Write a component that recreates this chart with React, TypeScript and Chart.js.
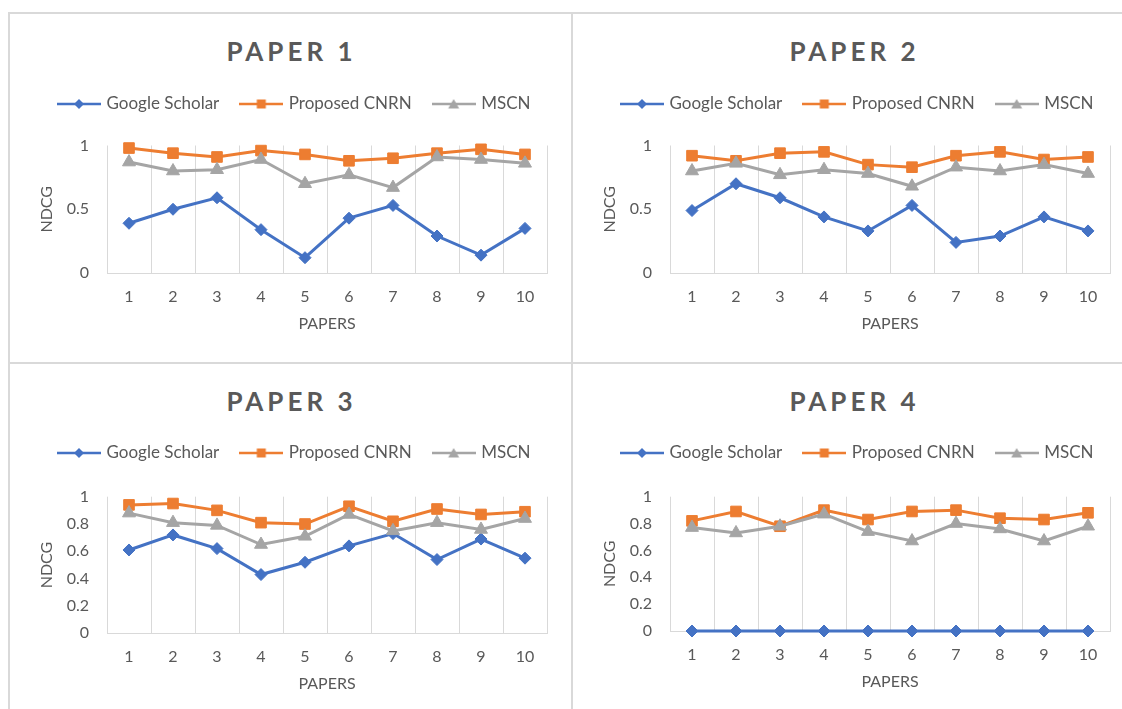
import React, { useEffect, useRef } from 'react';
import { Chart, registerables } from 'chart.js';

Chart.register(...registerables);

// ---------- data ----------
const categories = ['1', '2', '3', '4', '5', '6', '7', '8', '9', '10'];
const seriesNames = ['Google Scholar', 'Proposed CNRN', 'MSCN'];
const xAxisTitle = 'PAPERS';
const yAxisTitle = 'NDCG';

const paper1Google = [0.39, 0.5, 0.59, 0.34, 0.12, 0.43, 0.53, 0.29, 0.14, 0.35];
const paper1Cnrn = [0.98, 0.94, 0.91, 0.96, 0.93, 0.88, 0.9, 0.94, 0.97, 0.93];
const paper1Mscn = [0.87, 0.8, 0.81, 0.89, 0.7, 0.77, 0.67, 0.91, 0.89, 0.86];

const paper2Google = [0.49, 0.7, 0.59, 0.44, 0.33, 0.53, 0.24, 0.29, 0.44, 0.33];
const paper2Cnrn = [0.92, 0.88, 0.94, 0.95, 0.85, 0.83, 0.92, 0.95, 0.89, 0.91];
const paper2Mscn = [0.8, 0.86, 0.77, 0.81, 0.78, 0.68, 0.83, 0.8, 0.85, 0.78];

const paper3Google = [0.61, 0.72, 0.62, 0.43, 0.52, 0.64, 0.73, 0.54, 0.69, 0.55];
const paper3Cnrn = [0.94, 0.95, 0.9, 0.81, 0.8, 0.93, 0.82, 0.91, 0.87, 0.89];
const paper3Mscn = [0.88, 0.81, 0.79, 0.65, 0.71, 0.87, 0.75, 0.81, 0.76, 0.84];

const paper4Google = [0, 0, 0, 0, 0, 0, 0, 0, 0, 0];
const paper4Cnrn = [0.82, 0.89, 0.78, 0.9, 0.83, 0.89, 0.9, 0.84, 0.83, 0.88];
const paper4Mscn = [0.77, 0.73, 0.78, 0.87, 0.74, 0.67, 0.8, 0.76, 0.67, 0.78];

const yTicksHalf = [0, 0.5, 1];
const yTickLabelsHalf = ['0', '0.5', '1'];
const yTicksFifth = [0, 0.2, 0.4, 0.6, 0.8, 1];
const yTickLabelsFifth = ['0', '0.2', '0.4', '0.6', '0.8', '1'];

// ---------- styles ----------
const seriesColors = ['#4472C4', '#ED7D31', '#A5A5A5'];
const seriesMarkers = ['rectRot', 'rect', 'triangle'];
const markerRadii = [6, 7.5, 7.5];
const textColor = '#595959';
const gridColor = '#d9d9d9';
const fontFamily = 'Lato, "Open Sans", sans-serif';

type PanelCfg = {
  title: string;
  series: number[][];
  yTicks: number[];
  yLabels: string[];
  panelLeft: number;
  left: number;
  top: number;
  width: number;
  height: number;
  titleCenter: number;
  legendCenter: number;
  plotTop: number;
  plotBottom: number;
};

const panels: PanelCfg[] = [
  { title: 'PAPER 1', series: [paper1Google, paper1Cnrn, paper1Mscn], yTicks: yTicksHalf, yLabels: yTickLabelsHalf, panelLeft: 8, left: 10, top: 14, width: 560, height: 348, titleCenter: 52, legendCenter: 90, plotTop: 131.5, plotBottom: 259 },
  { title: 'PAPER 2', series: [paper2Google, paper2Cnrn, paper2Mscn], yTicks: yTicksHalf, yLabels: yTickLabelsHalf, panelLeft: 571, left: 573, top: 14, width: 560, height: 348, titleCenter: 52, legendCenter: 90, plotTop: 131.5, plotBottom: 259 },
  { title: 'PAPER 3', series: [paper3Google, paper3Cnrn, paper3Mscn], yTicks: yTicksFifth, yLabels: yTickLabelsFifth, panelLeft: 8, left: 10, top: 364, width: 560, height: 360, titleCenter: 401.7, legendCenter: 89, plotTop: 132.7, plotBottom: 269.3 },
  { title: 'PAPER 4', series: [paper4Google, paper4Cnrn, paper4Mscn], yTicks: yTicksFifth, yLabels: yTickLabelsFifth, panelLeft: 571, left: 573, top: 364, width: 560, height: 360, titleCenter: 401.7, legendCenter: 89, plotTop: 132.7, plotBottom: 267 },
];

function makeIcon(color: string, style: string): HTMLCanvasElement {
  const c = document.createElement('canvas');
  c.width = 44;
  c.height = 14;
  const ctx = c.getContext('2d')!;
  ctx.strokeStyle = color;
  ctx.lineWidth = 2.5;
  ctx.beginPath();
  ctx.moveTo(0, 7);
  ctx.lineTo(44, 7);
  ctx.stroke();
  ctx.fillStyle = color;
  ctx.beginPath();
  if (style === 'rectRot') {
    ctx.moveTo(22, 2);
    ctx.lineTo(27, 7);
    ctx.lineTo(22, 12);
    ctx.lineTo(17, 7);
  } else if (style === 'rect') {
    ctx.rect(17.5, 2.5, 9, 9);
  } else {
    ctx.moveTo(22, 2);
    ctx.lineTo(27.5, 11.5);
    ctx.lineTo(16.5, 11.5);
  }
  ctx.closePath();
  ctx.fill();
  return c;
}

const LEGEND_FONT = 17;
const LEGEND_PAD = 23;
const PAD_L = 27;
const PAD_R = 23;
const X_SCALE_H = 60;
const LEGEND_SLACK = 80;

function Panel({ cfg }: { cfg: PanelCfg }) {
  const ref = useRef<HTMLCanvasElement>(null);
  useEffect(() => {
    if (!ref.current) return;
    const icons = seriesColors.map((c, i) => makeIcon(c, seriesMarkers[i]));
    const padT = cfg.legendCenter - LEGEND_PAD - LEGEND_FONT / 2;
    const legendH = LEGEND_FONT + LEGEND_PAD + 10;
    const extra = cfg.plotTop - (padT + legendH);
    const padB = cfg.height - cfg.plotBottom - X_SCALE_H;
    const yWidth = 97 - PAD_L;
    const tickFont = { family: fontFamily, size: 16 };

    const spacer = {
      id: 'legendSpacer',
      beforeLayout(chart: any) {
        const lg = chart.legend;
        if (lg && !lg.__patched) {
          const origFit = lg.fit;
          lg.fit = function () {
            const mw = this.maxWidth;
            this.maxWidth = mw + LEGEND_SLACK;
            origFit.call(this);
            this.maxWidth = mw;
            this.height += extra;
          };
          const origDraw = lg.draw;
          lg.draw = function (...args: any[]) {
            const r = this.right;
            this.right = r + LEGEND_SLACK;
            origDraw.apply(this, args);
            this.right = r;
          };
          lg.__patched = true;
        }
      },
    };

    const chart = new Chart(ref.current, {
      type: 'line',
      data: {
        labels: categories,
        datasets: seriesNames.map((name, i) => ({
          label: name,
          data: cfg.series[i],
          borderColor: seriesColors[i],
          backgroundColor: seriesColors[i],
          borderWidth: 3,
          pointStyle: seriesMarkers[i] as any,
          pointRadius: markerRadii[i],
          pointBorderWidth: 1,
          pointBackgroundColor: seriesColors[i],
          pointBorderColor: seriesColors[i],
          tension: 0,
          clip: false as any,
          order: 3 - i,
        })),
      },
      options: {
        responsive: false,
        animation: false,
        events: [],
        layout: { padding: { left: PAD_L, right: PAD_R, top: padT, bottom: padB } },
        plugins: {
          title: { display: false },
          tooltip: { enabled: false },
          legend: {
            display: true,
            position: 'top',
            align: 'start',
            labels: {
              usePointStyle: true,
              pointStyleWidth: 38,
              padding: LEGEND_PAD,
              color: textColor,
              font: { family: fontFamily, size: LEGEND_FONT },
              generateLabels: (ch: any) => {
                const items = Chart.defaults.plugins.legend.labels.generateLabels(ch);
                items.sort((a: any, b: any) => a.datasetIndex - b.datasetIndex);
                return items.map((it: any) => ({ ...it, pointStyle: icons[it.datasetIndex] }));
              },
            },
          },
        },
        scales: {
          x: {
            type: 'category',
            offset: true,
            grid: { display: true, offset: true, color: gridColor, lineWidth: 1, drawTicks: false },
            border: { display: true, color: gridColor, width: 1 },
            ticks: { color: textColor, padding: 14, font: tickFont, autoSkip: false, maxRotation: 0 },
            title: { display: true, text: xAxisTitle, color: textColor, font: tickFont, padding: 0 },
            afterFit: (s: any) => {
              s.height = X_SCALE_H;
            },
          },
          y: {
            type: 'linear',
            min: 0,
            max: 1,
            grid: { display: false, drawTicks: false },
            border: { display: false },
            afterBuildTicks: (s: any) => {
              s.ticks = cfg.yTicks.map((v) => ({ value: v }));
            },
            ticks: {
              color: textColor,
              padding: 18,
              font: tickFont,
              autoSkip: false,
              callback: (_v: any, i: number) => cfg.yLabels[i],
            },
            title: { display: true, text: yAxisTitle, color: textColor, font: tickFont, padding: { top: 0.4, bottom: 0 } },
            afterFit: (s: any) => {
              s.width = yWidth;
            },
          },
        },
      } as any,
      plugins: [spacer],
    });
    return () => chart.destroy();
  }, [cfg]);

  return (
    <>
      <div
        style={{
          position: 'absolute',
          left: cfg.panelLeft,
          width: 563,
          top: cfg.titleCenter - 13.7,
          height: 26,
          lineHeight: '26px',
          fontSize: 26,
          fontFamily,
          fontWeight: 700,
          letterSpacing: '4px',
          paddingLeft: 4,
          boxSizing: 'border-box',
          textAlign: 'center',
          color: textColor,
          whiteSpace: 'nowrap',
        }}
      >
        {cfg.title}
      </div>
      <canvas
        ref={ref}
        width={cfg.width}
        height={cfg.height}
        style={{ position: 'absolute', left: cfg.left, top: cfg.top, width: cfg.width, height: cfg.height }}
      />
    </>
  );
}

export default function App() {
  const line = (l: number, t: number, w: number, h: number) => (
    <div style={{ position: 'absolute', left: l, top: t, width: w, height: h, background: gridColor }} />
  );
  return (
    <div
      style={{
        position: 'fixed',
        left: 0,
        top: 0,
        width: 1122,
        height: 709,
        overflow: 'hidden',
        background: '#ffffff',
      }}
    >
      {panels.map((p) => (
        <Panel key={p.title} cfg={p} />
      ))}
      {line(8, 12, 1114, 2)}
      {line(8, 362, 1114, 2)}
      {line(8, 12, 2, 697)}
      {line(571, 12, 2, 697)}
    </div>
  );
}
